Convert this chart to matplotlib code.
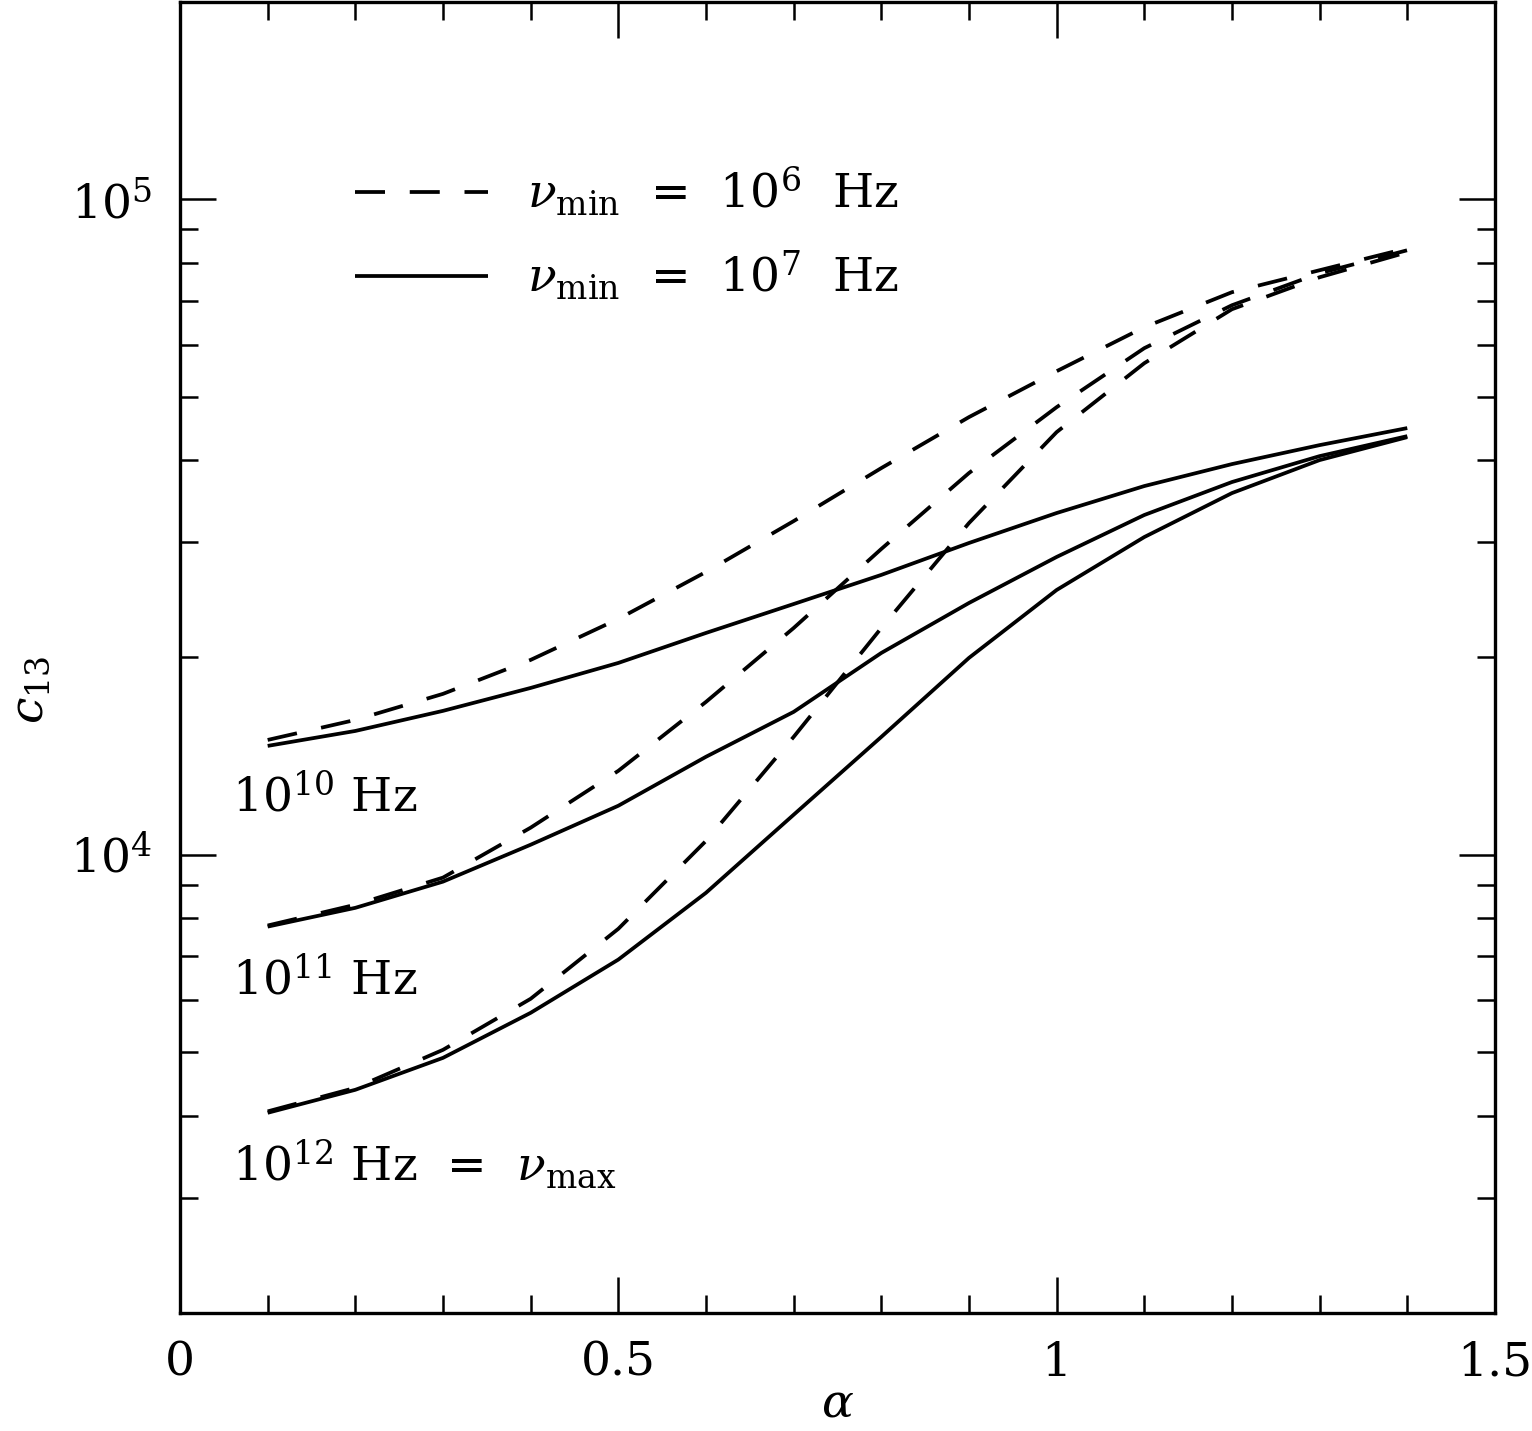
import matplotlib
matplotlib.use("Agg")
import matplotlib.pyplot as plt
from matplotlib.ticker import MultipleLocator, FuncFormatter, LogLocator, NullFormatter

# spectral index
alpha = [0.1, 0.2, 0.3, 0.4, 0.5, 0.6, 0.7, 0.8, 0.9, 1.0, 1.1, 1.2, 1.3, 1.4]

# c13 for nu_min = 1e6 Hz (dashed), one list per nu
c13_min6_nu10 = [14970, 16060, 17600, 19830, 22900, 27010, 32290, 38900, 46530,
                 54670, 63810, 72160, 77950, 84210]
c13_min6_nu11 = [7800, 8390, 9230, 11000, 13430, 17110, 22180, 29280, 38230,
                 48180, 59280, 68930, 77130, 83620]
c13_min6_nu12 = [4060, 4410, 5040, 6030, 7710, 10500, 15130, 22180, 32070,
                 44140, 56230, 67970, 76050, 83030]

# c13 for nu_min = 1e7 Hz (solid)
c13_min7_nu10 = [14660, 15450, 16580, 17970, 19620, 21800, 24130, 26730, 29900,
                 33220, 36520, 39450, 42170, 44770]
c13_min7_nu11 = [7770, 8300, 9100, 10360, 11880, 14110, 16520, 20320, 24220,
                 28470, 32990, 37040, 40570, 43520]
c13_min7_nu12 = [4040, 4380, 4900, 5740, 6920, 8750, 11510, 15130, 19970,
                 25350, 30530, 35630, 40010, 43370]

legend_labels = [r'$\nu_{\rm min}$  =  10$^6$  Hz', r'$\nu_{\rm min}$  =  10$^7$  Hz']
curve_labels = [r'10$^{10}$ Hz', r'10$^{11}$ Hz', r'10$^{12}$ Hz  =  $\nu_{\rm max}$']

plt.rcParams['font.family'] = ['DejaVu Serif']
plt.rcParams['mathtext.fontset'] = 'dejavuserif'
fs = 34

fig = plt.figure(figsize=(15.32, 14.31), dpi=100)
ax = fig.add_axes([0.1175, 0.0825, 0.8583, 0.9161])

lw = 2.7
dash = (8.0, 6.6)
for i, c in enumerate([c13_min6_nu10, c13_min6_nu11, c13_min6_nu12]):
    ax.plot(alpha, c, color='black', lw=lw, dashes=dash,
            label=legend_labels[0] if i == 0 else None)
for i, c in enumerate([c13_min7_nu10, c13_min7_nu11, c13_min7_nu12]):
    ax.plot(alpha, c, color='black', lw=lw, solid_capstyle='butt',
            label=legend_labels[1] if i == 0 else None)

ax.set_yscale('log')
ax.set_xlim(0, 1.5)
ax.set_ylim(2000, 2e5)

ax.xaxis.set_major_locator(MultipleLocator(0.5))
ax.xaxis.set_minor_locator(MultipleLocator(0.1))
ax.xaxis.set_major_formatter(FuncFormatter(lambda v, p: f'{v:g}'))
ax.yaxis.set_major_locator(LogLocator(base=10, numticks=10))
ax.yaxis.set_minor_locator(LogLocator(base=10, subs=range(2, 10), numticks=20))
ax.yaxis.set_minor_formatter(NullFormatter())

ax.tick_params(which='both', direction='in', top=True, right=True,
               labelsize=fs, width=1.8)
ax.tick_params(which='major', length=26)
ax.tick_params(which='minor', length=13)
ax.tick_params(axis='x', which='major', pad=20)
ax.tick_params(axis='y', which='major', pad=20)
for s in ax.spines.values():
    s.set_linewidth(2.4)

ax.set_xlabel(r'$\alpha$', fontsize=fs)
ax.xaxis.set_label_coords(0.5, -0.052)
ax.set_ylabel(r'$c_{13}$', fontsize=fs)
ax.yaxis.set_label_coords(-0.097, 0.475)

# curve labels (nu of the curve)
ax.text(0.0395, 0.382, curve_labels[0], transform=ax.transAxes, fontsize=fs,
        ha='left', va='baseline')
ax.text(0.0395, 0.2426, curve_labels[1], transform=ax.transAxes, fontsize=fs,
        ha='left', va='baseline')
ax.text(0.0395, 0.1015, curve_labels[2], transform=ax.transAxes, fontsize=fs,
        ha='left', va='baseline')

ax.legend(loc='upper left', bbox_to_anchor=(0.133, 0.876), frameon=False,
          fontsize=fs, borderpad=0, borderaxespad=0, handlelength=2.82,
          handletextpad=0.83, labelspacing=0.65)

fig.savefig('out.png', dpi=100)
